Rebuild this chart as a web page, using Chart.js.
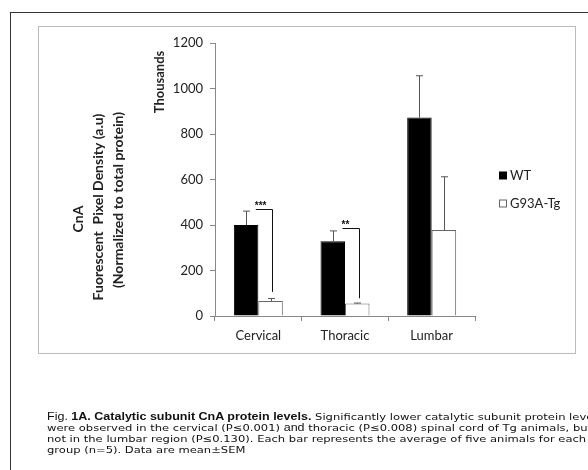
<!DOCTYPE html>
<html>
<head>
<meta charset="utf-8">
<script src="https://cdn.jsdelivr.net/npm/chart.js@4.4.1/dist/chart.umd.min.js"></script>
<style>
  body { margin: 0; background: #fff; }
  #wrap { position: relative; width: 588px; height: 470px; overflow: hidden; }
  #outer { position: absolute; left: 10px; top: 12px; width: 700px; height: 600px;
           border-left: 1px solid #333; border-top: 1px solid #333; }
  #frame { position: absolute; left: 38px; top: 26px; width: 536px; height: 326px;
           border: 1px solid #bbb; }
  canvas { position: absolute; left: 0; top: 0; }
  #caption { position: absolute; left: 47px; top: 0; transform: scaleX(1.215); transform-origin: 0 0; }
  .cap { position: absolute; left: 0; white-space: nowrap; line-height: 11px;
         font-family: "DejaVu Sans"; font-size: 9.5px; color: #111; }
  .cap .ar { font-family: "Liberation Sans"; font-size: 10.3px; }
</style>
</head>
<body>
<div id="wrap">
  <div id="outer"></div>
  <div id="frame"></div>
  <canvas id="cnaChart" width="588" height="470"></canvas>
  <div id="caption">
    <div class="cap" style="top:411px"><span class="ar">Fig. <b>1A. Catalytic subunit CnA protein levels.</b></span> Significantly lower catalytic subunit protein levels</div>
    <div class="cap" style="top:422px">were observed in the cervical (P≤0.001) <span class="ar">and</span> thoracic (P≤0.008) spinal cord of Tg animals, but</div>
    <div class="cap" style="top:433px">not in the lumbar region (P≤0.130). Each bar represents the average of five animals for each</div>
    <div class="cap" style="top:444px">group (n=5). Data are mean±SEM</div>
  </div>
</div>

<script>
/* ============================
   DATA (thousands)
============================ */
const categories = ["Cervical", "Thoracic", "Lumbar"];
const seriesNames = ["WT", "G93A-Tg"];
const wtValues = [400, 329, 872];
const wtErrors = [61, 45, 184];
const tgValues = [66, 55, 378];
const tgErrors = [11, 2, 234];
const sigLabels = ["***", "**", ""];
const bracketTop = [470, 386, null];
const bracketBottom = [106, 78, null];
const yTicks = [0, 200, 400, 600, 800, 1000, 1200];

const unitTitle = "Thousands";
const yTitleLines = ["CnA", "Fuorescent  Pixel Density (a.u)", "(Normalized to total protein)"];

const errors = [wtErrors, tgErrors];
const TEXT = "#222";
const AXIS = "#888";

/* ============================
   PLUGINS
============================ */
const errorBars = {
  id: "errorBars",
  afterDatasetsDraw(chart) {
    const { ctx, scales: { y } } = chart;
    ctx.save();
    ctx.strokeStyle = "#555";
    ctx.lineWidth = 1;
    chart.data.datasets.forEach((ds, di) => {
      chart.getDatasetMeta(di).data.forEach((bar, i) => {
        const top = y.getPixelForValue(ds.data[i] + errors[di][i]);
        const x = Math.round(bar.x) + 0.5;
        ctx.beginPath();
        ctx.moveTo(x, bar.y);
        ctx.lineTo(x, top);
        ctx.moveTo(x - 3.5, top);
        ctx.lineTo(x + 3.5, top);
        ctx.stroke();
      });
    });
    ctx.restore();
  }
};

const brackets = {
  id: "brackets",
  afterDatasetsDraw(chart) {
    const { ctx, scales: { x, y } } = chart;
    const tgMeta = chart.getDatasetMeta(1);
    ctx.save();
    ctx.strokeStyle = "#111";
    ctx.fillStyle = "#111";
    ctx.lineWidth = 1;
    ctx.font = "bold 10px 'Liberation Sans'";
    categories.forEach((c, i) => {
      if (bracketTop[i] == null) return;
      const x1 = x.getPixelForValue(i) - 2.5;
      const x2 = Math.round(tgMeta.data[i].x + 1.5) + 0.5;
      const yt = Math.round(y.getPixelForValue(bracketTop[i])) + 0.5;
      const yb = y.getPixelForValue(bracketBottom[i]);
      ctx.beginPath();
      ctx.moveTo(x1, yt);
      ctx.lineTo(x2, yt);
      ctx.lineTo(x2, yb);
      ctx.stroke();
      ctx.textAlign = "left";
      ctx.textBaseline = "alphabetic";
      ctx.fillText(sigLabels[i], x1 - 1, yt - 1);
    });
    ctx.restore();
  }
};

const titles = {
  id: "titles",
  afterDraw(chart) {
    const { ctx } = chart;
    ctx.save();
    ctx.fillStyle = TEXT;
    ctx.textAlign = "center";
    ctx.textBaseline = "middle";
    ctx.font = "bold 13px Lato";

    ctx.save();
    ctx.translate(160, 82);
    ctx.rotate(-Math.PI / 2);
    ctx.fillText(unitTitle, 0, 0);
    ctx.restore();

    ctx.font = "bold 14px Lato";
    const lineX = [78, 98, 118];
    const lineY = [219, 207, 200];
    yTitleLines.forEach((t, i) => {
      ctx.save();
      ctx.translate(lineX[i], lineY[i]);
      ctx.rotate(-Math.PI / 2);
      ctx.fillText(t, 0, 0);
      ctx.restore();
    });

    // legend
    ctx.textAlign = "left";
    ctx.font = "13px Lato";
    const rowY = [175.5, 203.5];
    chart.data.datasets.forEach((ds, i) => {
      const bx = 499.5, by = rowY[i] - 3.5;
      ctx.fillStyle = ds.backgroundColor;
      ctx.fillRect(bx, by, 7, 7);
      ctx.strokeStyle = ds.borderColor;
      ctx.lineWidth = 1;
      ctx.strokeRect(bx, by, 7, 7);
      ctx.fillStyle = TEXT;
      ctx.fillText(ds.label, 510, rowY[i] + 0.5);
    });
    ctx.restore();
  }
};

/* ============================
   CHART
============================ */
new Chart(document.getElementById("cnaChart"), {
  type: "bar",
  data: {
    labels: categories,
    datasets: [
      {
        label: seriesNames[0],
        data: wtValues,
        backgroundColor: "#000",
        borderColor: "#000",
        borderWidth: 1
      },
      {
        label: seriesNames[1],
        data: tgValues,
        backgroundColor: "#fff",
        borderColor: "#666",
        borderWidth: 1
      }
    ]
  },
  options: {
    responsive: false,
    animation: false,
    devicePixelRatio: 1,
    categoryPercentage: 0.565,
    barPercentage: 1.0,
    layout: { padding: { left: 165, top: 43, right: 113, bottom: 114 } },
    plugins: {
      legend: { display: false },
      tooltip: { enabled: false }
    },
    scales: {
      x: {
        grid: { offset: true, drawOnChartArea: false, tickLength: 5, color: AXIS },
        border: { color: AXIS },
        ticks: { color: TEXT, font: { family: "Lato", size: 13 }, padding: 7 },
        afterFit: s => { s.height = 40; }
      },
      y: {
        min: 0,
        max: 1200,
        afterBuildTicks: s => { s.ticks = yTicks.map(v => ({ value: v })); },
        grid: { drawOnChartArea: false, tickLength: 5, color: AXIS },
        border: { color: AXIS },
        ticks: { color: TEXT, font: { family: "Lato", size: 13 }, padding: 7, callback: v => String(v) },
        afterFit: s => { s.width = 50; }
      }
    }
  },
  plugins: [errorBars, brackets, titles]
});
</script>
</body>
</html>
